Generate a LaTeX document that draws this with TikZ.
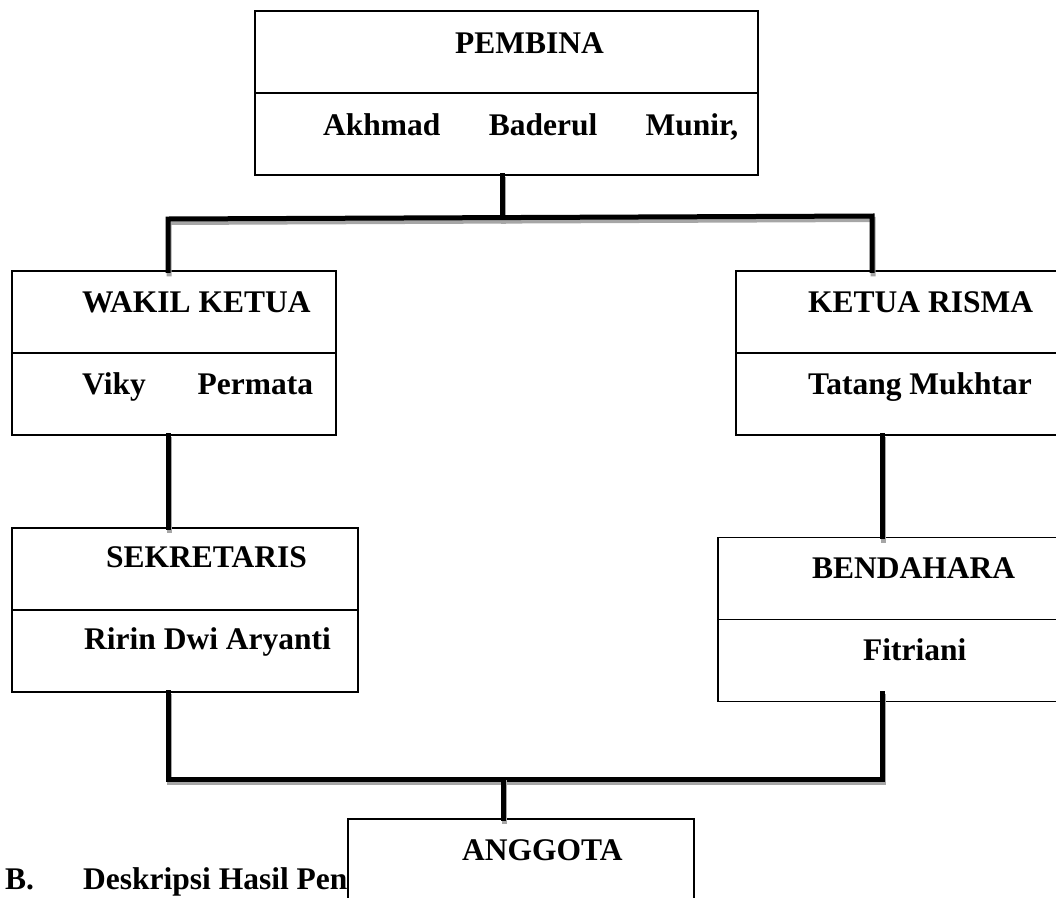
\documentclass[tikz,border=0pt]{standalone}
\usepackage{fontspec}
\setmainfont{Liberation Serif}
\usetikzlibrary{calc}
\newcommand{\orgfont}{\fontsize{31.5}{38}\selectfont\bfseries}

\begin{document}
\begin{tikzpicture}[x=1pt,y=-1pt,
  box/.style={draw, line width=1.3pt, fill=white, minimum height=164pt, inner sep=0pt},
  divider/.style={line width=1.3pt},
  lbl/.style={inner sep=0pt, font=\orgfont, anchor=base west},
  link/.style={line width=5pt, line cap=rect,
    preaction={draw, black!35, line width=5pt, line cap=rect, transform canvas={shift={(1pt,-3.5pt)}}}}]
\useasboundingbox (0,0) rectangle (1056,897);
\clip (0,0) rectangle (1056,897);
% heading below the chart (partly hidden)
\node[lbl] (secB) at (5,889) {B.};
\node[lbl] (secTitle) at (83,889) {Deskripsi Hasil Pen};
% boxes
\node[box, minimum width=503pt] (pembina) at (506.5,93) {};
\node[box, minimum width=324pt] (wakil) at (174,353) {};
\node[box, minimum width=346pt] (sekretaris) at (185,610) {};
\node[box, minimum width=334pt] (ketua) at (903,353) {};
\node[box, minimum width=352pt] (bendahara) at (894,619.5) {};
\node[box, minimum width=346pt] (anggota) at (521,901) {};
\foreach \b in {pembina,wakil,sekretaris,ketua,bendahara}
  \draw[divider] (\b.west) -- (\b.east);
% texts
\node[lbl] (pembinaT) at (455,53) {PEMBINA};
\node[lbl] (pembinaN) at (323,135) {\makebox[415pt][s]{Akhmad Baderul Munir,}};
\node[lbl] (wakilT) at (82,312) {WAKIL KETUA};
\node[lbl] (wakilN) at (82,394) {\makebox[231pt][s]{Viky Permata}};
\node[lbl] (sekretarisT) at (106,567) {SEKRETARIS};
\node[lbl] (sekretarisN) at (84,649) {Ririn Dwi Aryanti};
\node[lbl] (ketuaT) at (808,312) {KETUA RISMA};
\node[lbl] (ketuaN) at (808,394) {Tatang Mukhtar};
\node[lbl] (bendaharaT) at (812,578) {BENDAHARA};
\node[lbl] (bendaharaN) at (863,660) {Fitriani};
\node[lbl] (anggotaT) at (462,860) {ANGGOTA};
% connectors
\coordinate (topMid) at (502,218);
\coordinate (topL) at (168,219);
\coordinate (topR) at (872,216);
\coordinate (botL) at (168,779);
\coordinate (botR) at (882,779);
\coordinate (botMid) at (503,779);
\draw[link] (pembina.south -| topMid) -- (topMid);
\draw[link] (topL |- wakil.north) -- (topL) -- (topR) -- (topR |- ketua.north);
\draw[link] (wakil.south -| topL) -- (sekretaris.north -| topL);
\draw[link] (ketua.south -| botR) -- (bendahara.north -| botR);
\draw[link] (botL |- sekretaris.south) -- (botL) -- (botR) -- ($(botR |- bendahara.south)+(0,-9)$);
\draw[link] (botMid) -- (anggota.north -| botMid);
\end{tikzpicture}
\end{document}
